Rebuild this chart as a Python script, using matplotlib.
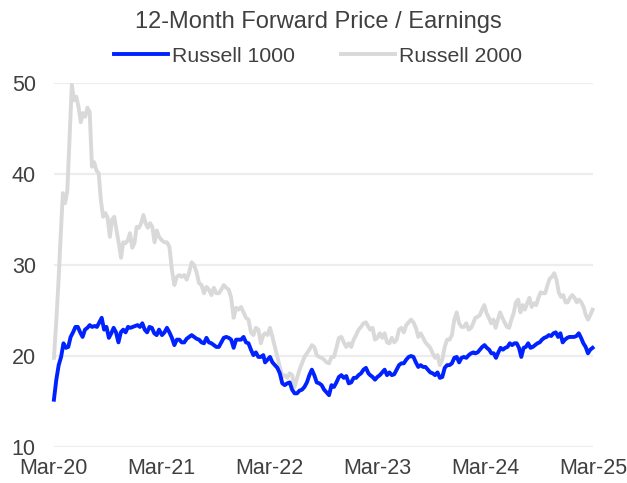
import pandas as pd
import matplotlib
matplotlib.use("Agg")
from matplotlib import pyplot as plt
import matplotlib.dates as mdates

plt.rcParams['font.family'] = ['Liberation Sans', 'DejaVu Sans']

# segment start/end dates (readings were taken in five stretches)
seg_dates = [("2020-03-01", "2021-02-20"),
             ("2021-03-02", "2022-02-08"),
             ("2022-02-14", "2023-01-30"),
             ("2023-02-05", "2024-01-21"),
             ("2024-01-27", "2025-02-27")]

# Russell 2000 forward P/E
r2000_1 = [19.8, 23.6, 28.0, 33.1, 37.9, 36.8, 38.2, 44.1, 49.8, 48.1, 48.5, 47.4, 45.7, 46.7, 46.3, 47.3,
           46.8, 40.8, 41.3, 40.4, 40.1, 37.1, 35.3, 35.7, 35.2, 33.1, 35.0, 35.3, 33.8, 32.4, 30.8, 32.5,
           32.4, 32.7, 33.5, 31.9, 32.4, 34.2, 34.1, 34.6, 35.5, 34.6, 34.1, 34.6, 34.2, 32.5, 33.8, 33.1]
r2000_2 = [32.7, 32.5, 32.5, 32.0, 29.5, 27.8, 28.7, 28.9, 28.7, 28.9, 28.4, 29.2, 30.3, 30.0, 29.2, 28.0,
           27.8, 26.9, 27.6, 27.3, 26.7, 27.5, 26.9, 26.9, 27.3, 27.8, 27.5, 27.3, 26.4, 24.2, 25.3, 25.1,
           25.4, 24.8, 24.2, 24.0, 22.6, 22.3, 23.1, 22.9, 21.4, 22.3]
r2000_3 = [22.5, 22.3, 23.1, 22.1, 21.0, 19.9, 18.8, 17.7, 17.9, 17.6, 18.1, 17.9, 16.6, 17.6, 18.5, 19.2,
           19.9, 20.3, 20.7, 21.2, 21.0, 20.1, 19.9, 19.8, 19.6, 19.3, 19.2, 19.9, 19.9, 20.9, 22.0, 22.1,
           21.5, 21.0, 21.4, 21.0, 21.8, 22.3, 22.9, 23.2, 23.6, 23.7, 23.2]
r2000_4 = [22.9, 23.1, 21.8, 22.0, 22.5, 22.0, 22.5, 21.5, 21.4, 22.0, 21.5, 21.8, 22.9, 23.1, 22.6, 23.4,
           23.7, 24.0, 23.7, 23.1, 22.1, 22.5, 22.0, 21.5, 21.2, 20.9, 20.3, 19.8, 20.1, 19.0, 19.6, 21.0,
           21.8, 21.8, 22.3, 24.0, 24.8, 23.6, 23.2, 23.2, 23.6, 22.9, 23.1, 23.7]
r2000_5 = [24.2, 24.3, 24.5, 25.1, 25.6, 24.7, 24.2, 23.6, 24.0, 23.1, 24.0, 24.8, 24.2, 23.7, 23.2, 23.1,
           24.0, 24.7, 25.9, 26.2, 24.8, 25.6, 25.1, 25.8, 26.4, 25.4, 25.8, 25.6, 26.4, 27.0, 26.9, 26.9,
           27.8, 28.5, 28.7, 29.1, 28.4, 27.0, 26.5, 26.7, 25.9, 25.9, 26.4, 26.7, 26.4, 25.9, 26.2, 25.9,
           25.4, 24.5, 24.0, 24.5, 25.1]

# Russell 1000 forward P/E
r1000_1 = [15.2, 17.4, 19.0, 19.9, 21.4, 20.9, 21.0, 22.1, 22.6, 23.2, 23.2, 22.6, 22.1, 22.9, 23.1, 23.4,
           23.2, 23.3, 23.2, 23.7, 24.2, 22.9, 23.2, 22.0, 22.5, 23.1, 22.6, 21.5, 22.6, 22.9, 22.6, 23.2,
           23.1, 23.2, 23.3, 23.4, 23.2, 23.6, 22.9, 22.6, 23.2, 23.1, 22.5, 22.3, 22.9]
r1000_2 = [22.3, 22.6, 23.1, 22.6, 22.0, 21.2, 21.8, 21.8, 21.5, 21.5, 21.9, 22.1, 22.3, 22.1, 21.9, 21.8,
           21.5, 21.4, 22.0, 21.5, 21.4, 21.2, 21.0, 21.0, 21.5, 22.0, 22.1, 22.0, 21.8, 20.9, 21.8, 21.8,
           21.8, 22.1, 21.5, 21.4, 20.7, 20.1, 20.4, 19.9, 19.9, 20.1]
r1000_3 = [19.3, 19.6, 19.9, 19.3, 19.0, 18.7, 18.1, 17.0, 16.8, 17.0, 17.1, 16.3, 15.9, 15.9, 16.2, 16.3,
           16.6, 17.1, 17.9, 18.5, 17.9, 17.1, 17.0, 16.8, 16.3, 16.0, 15.7, 16.8, 16.6, 17.1, 17.7, 17.9,
           17.6, 17.8, 17.0, 17.1, 17.6, 17.6, 17.9, 18.1, 18.5, 18.7, 18.1]
r1000_4 = [17.9, 17.7, 17.4, 17.7, 17.9, 18.2, 18.5, 17.9, 18.2, 17.9, 18.0, 18.5, 19.0, 19.2, 19.2, 19.6,
           19.9, 20.0, 19.9, 19.3, 18.8, 19.0, 18.8, 18.8, 18.5, 18.2, 18.1, 17.9, 18.2, 17.6, 17.7, 18.7,
           19.0, 19.0, 19.2, 19.8, 19.9, 19.3, 19.8, 19.9, 19.8, 20.1, 20.3, 20.4]
r1000_5 = [20.3, 20.4, 20.7, 21.0, 21.2, 20.9, 20.7, 20.3, 20.3, 19.8, 20.4, 20.9, 20.7, 20.9, 21.0, 21.4,
           21.2, 21.4, 21.4, 20.9, 19.9, 20.9, 21.0, 21.4, 20.9, 21.0, 21.2, 21.4, 21.5, 21.8, 22.0, 22.1,
           22.3, 22.2, 22.5, 22.6, 22.1, 22.5, 21.5, 21.8, 22.0, 22.1, 22.1, 22.1, 22.2, 22.5, 22.0, 21.4,
           21.0, 20.3, 20.7, 20.9]

tick_dates = ["2020-03-01", "2021-03-01", "2022-03-01", "2023-03-01", "2024-03-01", "2025-03-01"]
y_ticks = [10, 20, 30, 40, 50]


def build(parts):
    pieces = []
    for (start, end), vals in zip(seg_dates, parts):
        idx = pd.date_range(start, end, periods=len(vals))
        pieces.append(pd.Series(vals, index=idx))
    return pd.concat(pieces)


r2000 = build([r2000_1, r2000_2, r2000_3, r2000_4, r2000_5])
r1000 = build([r1000_1, r1000_2, r1000_3, r1000_4, r1000_5])

text_col = '#404040'
fig = plt.figure(figsize=(6.27, 4.83), dpi=100)
ax = fig.add_axes([0.086, 0.0745, 0.86, 0.7535])

l2, = ax.plot(r2000.index, r2000.values, color='#D9D9D9', lw=2.8, label='Russell 2000',
              solid_joinstyle='round', clip_on=False)
l1, = ax.plot(r1000.index, r1000.values, color='#0022FF', lw=2.8, label='Russell 1000',
              solid_joinstyle='round', clip_on=False)

ax.set_xlim(pd.Timestamp(tick_dates[0]), pd.Timestamp(tick_dates[-1]))
ax.set_ylim(10, 50)
ax.set_xticks([pd.Timestamp(d) for d in tick_dates])
ax.xaxis.set_major_formatter(mdates.DateFormatter('%b-%y'))
ax.set_yticks(y_ticks)
ax.grid(axis='y', color='#EDEDED', lw=1.6)
ax.set_axisbelow(True)
for s in ax.spines.values():
    s.set_visible(False)
ax.tick_params(axis='y', length=0, pad=13, labelsize=15.5, labelcolor=text_col)
ax.tick_params(axis='x', length=0, pad=8, labelsize=15.5, labelcolor=text_col)

fig.text(0.507, 0.955, '12-Month Forward Price / Earnings', ha='center', va='center',
         fontsize=17, color=text_col)
fig.legend(handles=[l1, l2], loc='center', bbox_to_anchor=(0.507, 0.884), ncol=2, frameon=False,
           fontsize=15.3, handlelength=2.55, handletextpad=0.2, columnspacing=2.15, labelcolor=text_col)

fig.savefig('out.png', dpi=100)
